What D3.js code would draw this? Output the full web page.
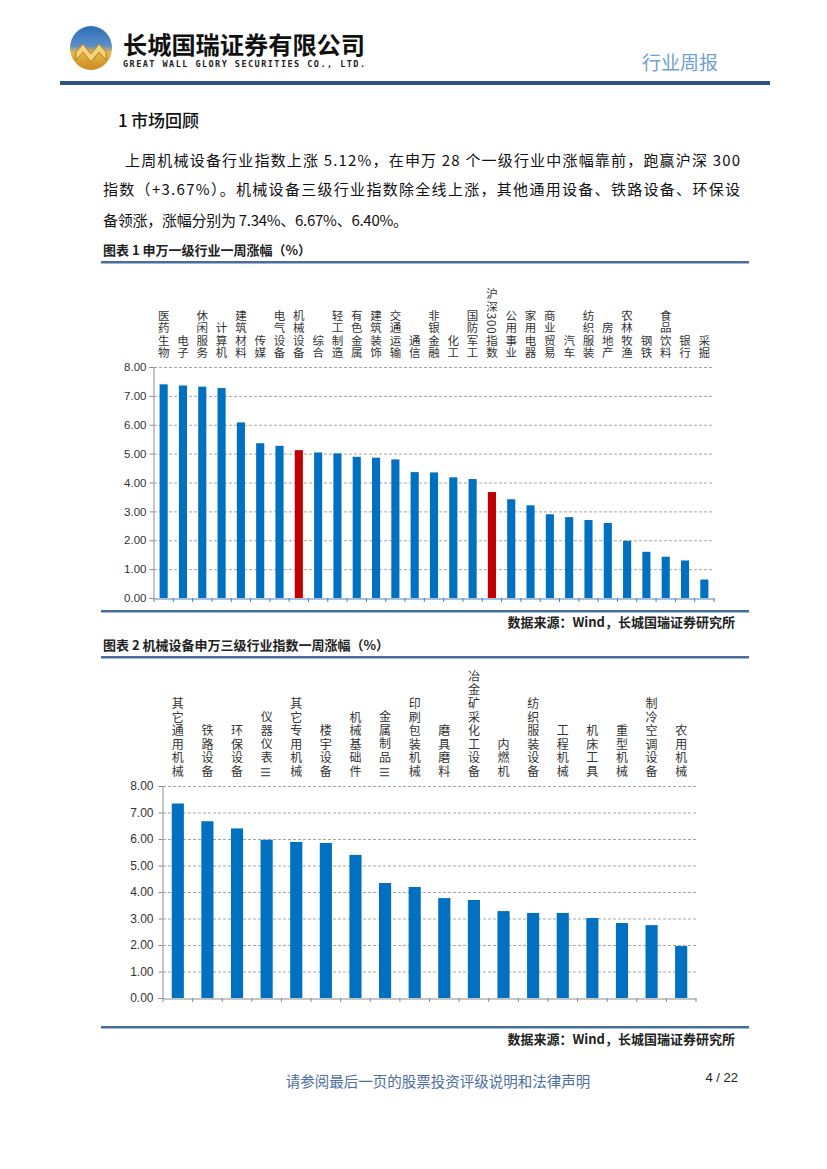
<!DOCTYPE html>
<html><head><meta charset="utf-8">
<script src="https://cdn.jsdelivr.net/npm/d3@7"></script>
<style>body{margin:0;background:#fff}svg{display:block}</style>
</head><body>
<svg id="page" width="827" height="1169"></svg>
<script>
// ---------- data ----------
const cats1 = ["医药生物","电子","休闲服务","计算机","建筑材料","传媒","电气设备","机械设备","综合","轻工制造","有色金属","建筑装饰","交通运输","通信","非银金融","化工","国防军工","沪深300指数","公用事业","家用电器","商业贸易","汽车","纺织服装","房地产","农林牧渔","钢铁","食品饮料","银行","采掘"];
const vals1 = [7.40,7.36,7.32,7.27,6.08,5.36,5.27,5.12,5.04,5.01,4.89,4.86,4.80,4.36,4.35,4.18,4.12,3.67,3.42,3.21,2.90,2.80,2.70,2.60,1.98,1.60,1.43,1.30,0.64];
const highlight1 = ["机械设备","沪深300指数"];
const cats2 = ["其它通用机械","铁路设备","环保设备","仪器仪表Ⅲ","其它专用机械","楼宇设备","机械基础件","金属制品Ⅲ","印刷包装机械","磨具磨料","冶金矿采化工设备","内燃机","纺织服装设备","工程机械","机床工具","重型机械","制冷空调设备","农用机械"];
const vals2 = [7.34,6.67,6.40,5.97,5.89,5.85,5.40,4.34,4.19,3.77,3.70,3.28,3.21,3.21,3.02,2.83,2.75,1.96];
const yTicks = [0,1,2,3,4,5,6,7,8];

const CJK = '"Noto Sans CJK SC","Noto Sans",sans-serif';
const LAT = '"Liberation Sans",Arial,sans-serif';
const svg = d3.select("#page");
svg.append("rect").attr("width",827).attr("height",1169).attr("fill","#fff");

// ---------- header ----------
const defs = svg.append("defs");
const lg = defs.append("linearGradient").attr("id","logoG").attr("x1",0).attr("y1",0).attr("x2",0).attr("y2",1);
lg.append("stop").attr("offset","0").attr("stop-color","#2a6db5");
lg.append("stop").attr("offset","0.45").attr("stop-color","#5c8fc8");
lg.append("stop").attr("offset","0.6").attr("stop-color","#e7b64a");
lg.append("stop").attr("offset","1").attr("stop-color","#c98a1c");
svg.append("ellipse").attr("cx",91).attr("cy",48).attr("rx",21).attr("ry",22).attr("fill","url(#logoG)");
svg.append("path").attr("d","M76,52 L83,44 L91,54 L99,44 L106,52 L106,60 L99,52 L91,62 L83,52 L76,60 Z").attr("fill","#f4d37a").attr("stroke","#a86d10").attr("stroke-width",0.8);
svg.append("text").attr("x",123).attr("y",54).attr("font-family",CJK).attr("font-weight",700).attr("font-size",24)
  .attr("textLength",242).attr("lengthAdjust","spacingAndGlyphs").attr("fill","#111").text("长城国瑞证券有限公司");
svg.append("text").attr("x",123).attr("y",67).attr("font-family","DejaVu Sans Mono,monospace").attr("font-weight",700).attr("font-size",8.5)
  .attr("textLength",242).attr("lengthAdjust","spacing").attr("fill","#222").text("GREAT WALL GLORY SECURITIES CO., LTD.");
svg.append("text").attr("x",718).attr("y",70).attr("text-anchor","end").attr("font-family",CJK).attr("font-size",19)
  .attr("fill","#6e9fd2").text("行业周报");
svg.append("rect").attr("x",60).attr("y",81).attr("width",710).attr("height",4).attr("fill","#2d5282");

// ---------- body text ----------
svg.append("text").attr("x",118).attr("y",127).attr("font-family",CJK).attr("font-size",17).attr("font-weight",500).attr("fill","#111").text("1");
svg.append("text").attr("x",131).attr("y",127).attr("font-family",CJK).attr("font-size",17).attr("font-weight",500).attr("fill","#111").text("市场回顾");
const para = [
  {x:125, y:166, t:"上周机械设备行业指数上涨 5.12%，在申万 28 个一级行业中涨幅靠前，跑赢沪深 300", w:615},
  {x:103, y:195, t:"指数（+3.67%）。机械设备三级行业指数除全线上涨，其他通用设备、铁路设备、环保设", w:637},
  {x:103, y:226, t:"备领涨，涨幅分别为 7.34%、6.67%、6.40%。", w:305}
];
para.forEach(p=>{
  const t = svg.append("text").attr("x",p.x).attr("y",p.y).attr("font-family",CJK).attr("font-size",15).attr("fill","#111").text(p.t);
  if(p.w) t.attr("textLength",p.w).attr("lengthAdjust","spacing");
});

function titleBlock(y, txt, lineY){
  svg.append("text").attr("x",103).attr("y",y).attr("font-family",CJK).attr("font-weight",700).attr("font-size",13).attr("fill","#222").text(txt);
  svg.append("rect").attr("x",101).attr("y",lineY).attr("width",648).attr("height",2.5).attr("fill","#4a6d9c");
}
function sourceBlock(lineY, y){
  svg.append("rect").attr("x",101).attr("y",lineY).attr("width",648).attr("height",2.5).attr("fill","#4a6d9c");
  svg.append("text").attr("x",735).attr("y",y).attr("text-anchor","end").attr("font-family",CJK).attr("font-weight",700).attr("font-size",13).attr("fill","#222").text("数据来源：Wind，长城国瑞证券研究所");
}

// vertical label: one vertical text per category, bottom aligned; Ⅲ drawn rotated below
function vlabel(g, x, bottom, label, fs, ls){
  let main = label, b = bottom;
  if(label.endsWith("Ⅲ")){
    main = label.slice(0,-1);
    const h = fs + ls;
    g.append("text").attr("transform",`translate(${x},${b - h/2}) rotate(90)`)
      .attr("text-anchor","middle").attr("dominant-baseline","central")
      .attr("font-family",CJK).attr("font-size",fs).attr("fill","#333").text("Ⅲ");
    b -= h + 0.5;
  }
  g.append("text").attr("x",x).attr("y",b).attr("text-anchor","end")
    .style("writing-mode","vertical-rl").style("text-orientation","mixed")
    .attr("letter-spacing",ls)
    .attr("font-family",CJK).attr("font-size",fs).attr("fill","#333").text(main);
}

function barChart(cfg){
  const g = svg.append("g");
  const x = d3.scaleBand().domain(cfg.cats).range([cfg.x0,cfg.x1]).paddingInner(0).paddingOuter(0);
  const y = d3.scaleLinear().domain([0,8]).range([cfg.y0,cfg.yTop]);
  g.selectAll(".grid").data(yTicks.filter(d=>d>0)).join("line")
    .attr("x1",cfg.x0).attr("x2",cfg.x1).attr("y1",d=>y(d)+0.5).attr("y2",d=>y(d)+0.5)
    .attr("stroke","#a6a6a6").attr("stroke-width",1).attr("stroke-dasharray","3,2");
  const ya = g.append("g").attr("transform",`translate(${cfg.x0-0.5},0)`)
    .call(d3.axisLeft(y).tickValues(yTicks).tickFormat(d3.format(".2f")).tickSize(4).tickPadding(cfg.tickPad));
  ya.select(".domain").attr("stroke","#8c8c8c");
  ya.selectAll(".tick line").attr("stroke","#8c8c8c");
  ya.selectAll(".tick text").attr("font-family",LAT).attr("font-size",cfg.tfs).attr("fill","#333");
  g.selectAll(".bar").data(cfg.cats).join("rect")
    .attr("x",(d)=>x(d)+x.bandwidth()*(1-cfg.bw)/2).attr("width",x.bandwidth()*cfg.bw)
    .attr("y",(d,i)=>y(cfg.vals[i])).attr("height",(d,i)=>y(0)-y(cfg.vals[i]))
    .attr("fill",d=>cfg.hl.includes(d)?"#c00000":"#0070c0");
  const xa = g.append("g").attr("transform",`translate(0,${cfg.y0+0.5})`)
    .call(d3.axisBottom(x).tickValues([]).tickSizeOuter(0));
  xa.select(".domain").attr("stroke",cfg.axisColor).attr("stroke-width",1.2);
  g.selectAll(".xt").data(cfg.cats.concat(["__end"])).join("line")
    .attr("x1",(d,i)=>cfg.x0+i*x.step()).attr("x2",(d,i)=>cfg.x0+i*x.step())
    .attr("y1",cfg.y0).attr("y2",cfg.y0+4).attr("stroke",cfg.axisColor).attr("stroke-width",1);
  cfg.cats.forEach(c=>vlabel(g, x(c)+x.bandwidth()/2, cfg.labBottom, c, cfg.lfs, cfg.lls));
}

// ---------- chart 1 ----------
titleBlock(255, "图表 1 申万一级行业一周涨幅（%）", 261);
barChart({cats:cats1, vals:vals1, hl:highlight1, x0:154, x1:714, y0:598, yTop:367, bw:0.42,
  tfs:11.5, tickPad:3, axisColor:"#4f81bd", labBottom:359, lfs:11.5, lls:0.8});
sourceBlock(610, 627);

// ---------- chart 2 ----------
titleBlock(650, "图表 2 机械设备申万三级行业指数一周涨幅（%）", 656);
barChart({cats:cats2, vals:vals2, hl:[], x0:163, x1:696, y0:998, yTop:786, bw:0.41,
  tfs:12, tickPad:5, axisColor:"#8c8c8c", labBottom:779, lfs:12, lls:1.6});
sourceBlock(1026, 1044);

// ---------- footer ----------
svg.append("text").attr("x",438).attr("y",1087).attr("text-anchor","middle").attr("font-family",CJK).attr("font-size",14.5)
  .attr("fill","#4a6fa0").text("请参阅最后一页的股票投资评级说明和法律声明");
svg.append("text").attr("x",738).attr("y",1082).attr("text-anchor","end").attr("font-family",LAT).attr("font-size",13)
  .attr("fill","#222").text("4 / 22");
</script>
</body></html>
